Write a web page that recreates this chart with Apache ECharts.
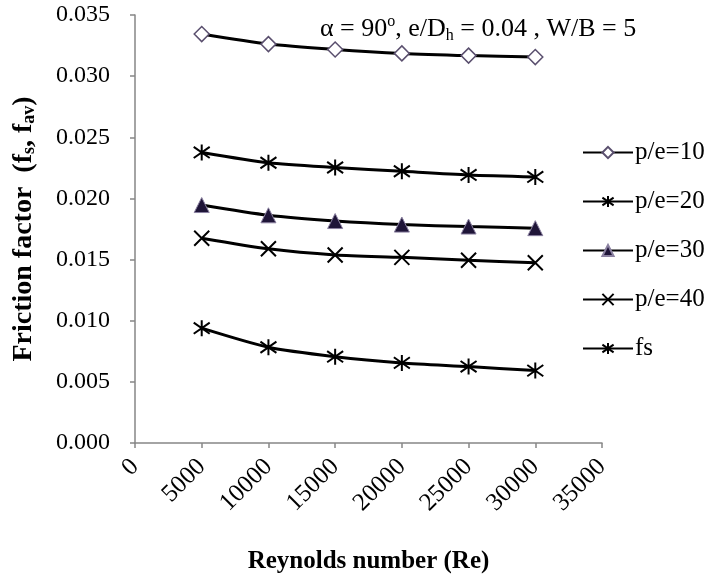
<!DOCTYPE html>
<html>
<head>
<meta charset="utf-8">
<script src="https://cdn.jsdelivr.net/npm/echarts@6/dist/echarts.min.js"></script>
<style>html,body{margin:0;padding:0;background:#fff;}#c{width:705px;height:578px;}</style>
</head>
<body>
<div id="c"></div>
<script>
const reynolds = [5000, 10000, 15000, 20000, 25000, 30000];
const pe10 = [0.03344, 0.03262, 0.03218, 0.03186, 0.03168, 0.03156];
const pe20 = [0.02376, 0.02292, 0.02253, 0.02222, 0.02192, 0.02176];
const pe30 = [0.01946, 0.01862, 0.01815, 0.01786, 0.01770, 0.01757];
const pe40 = [0.01675, 0.01588, 0.01538, 0.01518, 0.01494, 0.01474];
const fs   = [0.00939, 0.00783, 0.00706, 0.00655, 0.00625, 0.00592];
const seriesNames = ['p/e=10', 'p/e=20', 'p/e=30', 'p/e=40', 'fs'];
const yTicks = [0, 0.035, 0.005];
const xTicks = [0, 35000, 5000];

const FONT = '"Liberation Serif", "Times New Roman", serif';
const ASTER = 'path://M5,0L5,10M0.7,1.5L9.3,8.5M0.7,8.5L9.3,1.5';
const CROSS = 'path://M0,0L10,10M10,0L0,10';

function pairs(vals){ return reynolds.map((r,i)=>[r, vals[i]]); }

const base = {
  type: 'line', smooth: 0.25,
  lineStyle: { color: '#000', width: 3 },
  emphasis: { disabled: true }
};

const chart = echarts.init(document.getElementById('c'), null, {renderer: 'canvas'});
chart.setOption({
  animation: false,
  backgroundColor: '#fff',
  textStyle: { fontFamily: FONT, color: '#000' },
  grid: { left: 135, right: 103, top: 15, bottom: 135, containLabel: false, outerBoundsMode: 'none' },
  title: {
    text: 'α = 90{sup|o}, e/D{sub|h} = 0.04 , W/B = 5',
    left: 315, top: 9,
    textStyle: {
      fontFamily: FONT, fontSize: 26, fontWeight: 'normal', color: '#000',
      lineHeight: 30,
      rich: {
        sup: { fontFamily: FONT, fontSize: 16, verticalAlign: 'top', lineHeight: 30, padding: [0,0,12,0] },
        sub: { fontFamily: FONT, fontSize: 16, verticalAlign: 'bottom', lineHeight: 30, padding: [10,0,0,0] }
      }
    }
  },
  legend: {
    orient: 'vertical', left: 577, top: 135,
    itemWidth: 50, itemHeight: 14, itemGap: 24,
    textStyle: { fontFamily: FONT, fontSize: 25, color: '#000', padding: [0,0,0,-3] },
    data: seriesNames
  },
  xAxis: {
    type: 'value', min: xTicks[0], max: xTicks[1], interval: xTicks[2],
    name: 'Reynolds number (Re)', nameLocation: 'middle', nameGap: 106,
    nameTextStyle: { fontFamily: FONT, fontSize: 25, fontWeight: 'bold', color: '#000' },
    axisLine: { lineStyle: { color: '#868686', width: 1.5 } },
    axisTick: { show: true, length: 5, lineStyle: { color: '#868686', width: 1.5 } },
    axisLabel: { rotate: 45, fontFamily: FONT, fontSize: 25, color: '#000', margin: 20,
      formatter: v => String(v) },
    splitLine: { show: false }
  },
  yAxis: {
    type: 'value', min: yTicks[0], max: yTicks[1], interval: yTicks[2],
    name: 'Friction factor  (f{sub|s}, f{sub|av})', nameLocation: 'middle', nameGap: 97, nameRotate: 90,
    nameTextStyle: {
      fontFamily: FONT, fontSize: 28, fontWeight: 'bold', color: '#000',
      rich: { sub: { fontFamily: FONT, fontSize: 18, fontWeight: 'bold', verticalAlign: 'bottom', padding: [10,0,0,0] } }
    },
    axisLine: { show: true, lineStyle: { color: '#868686', width: 1.5 } },
    axisTick: { show: true, length: 5, lineStyle: { color: '#868686', width: 1.5 } },
    axisLabel: { fontFamily: FONT, fontSize: 24, color: '#000', margin: 25, formatter: v => v.toFixed(3) },
    splitLine: { show: false }
  },
  series: [
    Object.assign({}, base, { name: seriesNames[0], data: pairs(pe10), symbol: 'diamond', symbolSize: 15,
      itemStyle: { color: '#fff', borderColor: '#5a4f6e', borderWidth: 1.5 } }),
    Object.assign({}, base, { name: seriesNames[1], data: pairs(pe20), symbol: ASTER, symbolSize: 16,
      itemStyle: { color: 'rgba(0,0,0,0)', borderColor: '#000', borderWidth: 2 } }),
    Object.assign({}, base, { name: seriesNames[2], data: pairs(pe30), symbol: 'triangle', symbolSize: 15,
      itemStyle: { color: '#1f1538', borderColor: '#8a80a0', borderWidth: 1 } }),
    Object.assign({}, base, { name: seriesNames[3], data: pairs(pe40), symbol: CROSS, symbolSize: 15,
      itemStyle: { color: 'rgba(0,0,0,0)', borderColor: '#000', borderWidth: 2 } }),
    Object.assign({}, base, { name: seriesNames[4], data: pairs(fs), symbol: ASTER, symbolSize: 16,
      itemStyle: { color: 'rgba(0,0,0,0)', borderColor: '#000', borderWidth: 2 } })
  ]
});
</script>
</body>
</html>
